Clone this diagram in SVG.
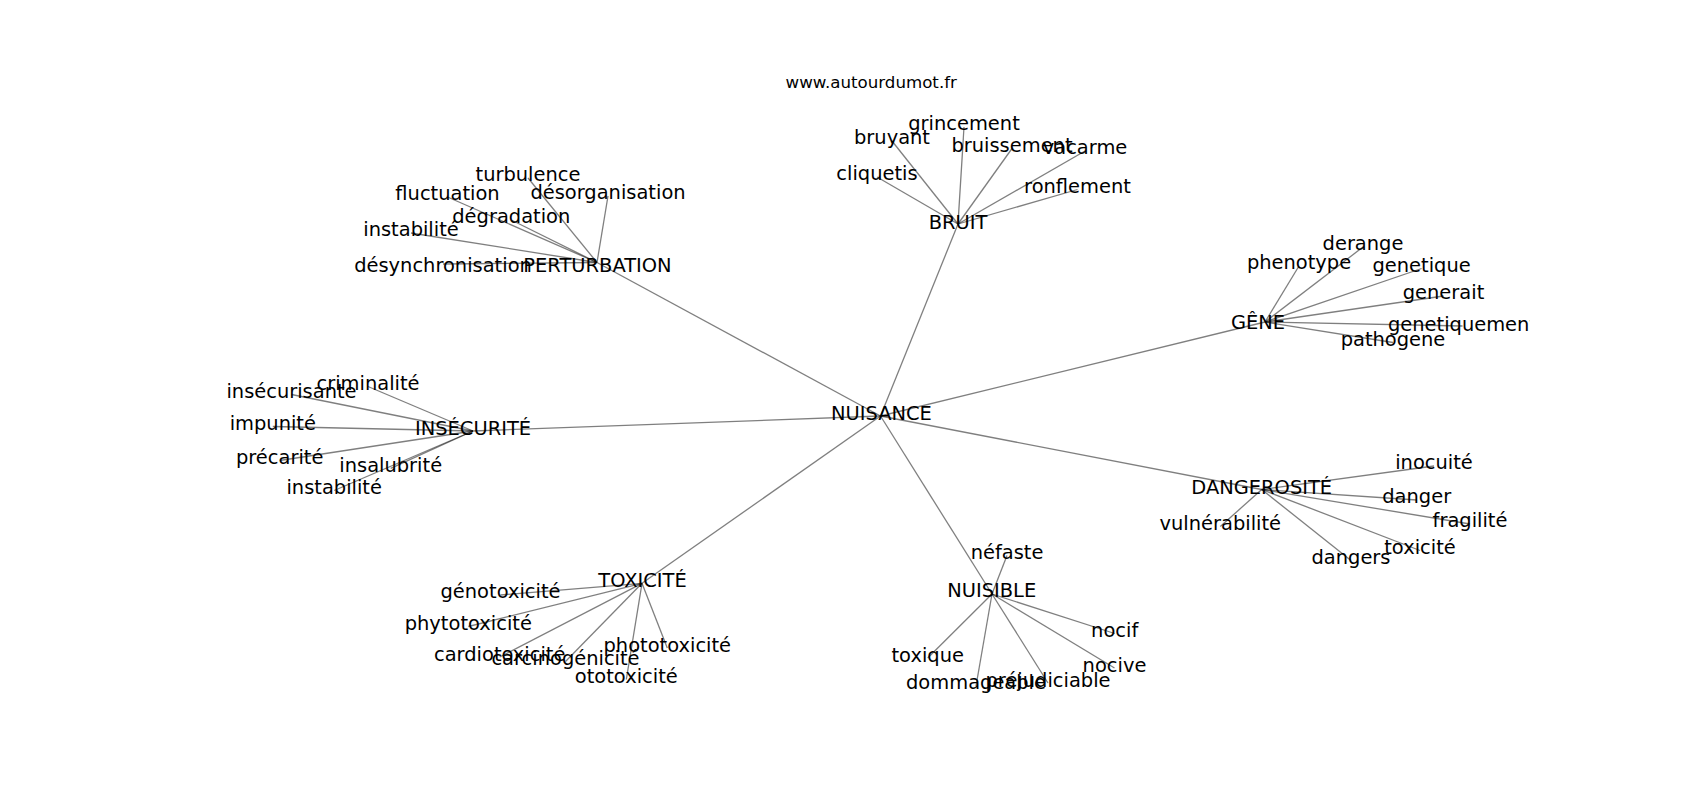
<svg xmlns="http://www.w3.org/2000/svg" width="1700" height="800" viewBox="0 0 1700 800">
<style>
text{font-family:"DejaVu Sans","Liberation Sans",sans-serif;fill:#000;text-anchor:middle}
.n text{font-size:19.44px}
.title{font-size:16.67px}
#edges line{stroke:#000;stroke-opacity:0.5;stroke-width:1.3}
</style>
<defs><clipPath id="ax"><rect x="212.5" y="96" width="1317.5" height="616"/></clipPath></defs>
<rect width="1700" height="800" fill="#fff"/>
<text class="title" x="871.25" y="87.7">www.autourdumot.fr</text>
<g id="edges">
<line x1="880.5" y1="416" x2="597" y2="262.5"/>
<line x1="880.5" y1="416" x2="958" y2="224"/>
<line x1="880.5" y1="416" x2="1265" y2="322"/>
<line x1="880.5" y1="416" x2="473" y2="431"/>
<line x1="880.5" y1="416" x2="1261.7" y2="489.5"/>
<line x1="880.5" y1="416" x2="642" y2="583.3"/>
<line x1="880.5" y1="416" x2="992" y2="594"/>
<line x1="597" y1="262.5" x2="528" y2="178"/>
<line x1="597" y1="262.5" x2="447.5" y2="197"/>
<line x1="597" y1="262.5" x2="608" y2="196"/>
<line x1="597" y1="262.5" x2="511.3" y2="220"/>
<line x1="597" y1="262.5" x2="411" y2="233"/>
<line x1="597" y1="262.5" x2="443" y2="264"/>
<line x1="958" y1="224" x2="964" y2="127"/>
<line x1="958" y1="224" x2="892" y2="141"/>
<line x1="958" y1="224" x2="1012" y2="148.5"/>
<line x1="958" y1="224" x2="877" y2="177"/>
<line x1="958" y1="224" x2="1085" y2="151"/>
<line x1="958" y1="224" x2="1077.5" y2="189.5"/>
<line x1="1265" y1="322" x2="1363" y2="247"/>
<line x1="1265" y1="322" x2="1299" y2="266"/>
<line x1="1265" y1="322" x2="1421.6" y2="268.5"/>
<line x1="1265" y1="322" x2="1443.5" y2="296"/>
<line x1="1265" y1="322" x2="1462.5" y2="326"/>
<line x1="1265" y1="322" x2="1393" y2="342.5"/>
<line x1="473" y1="431" x2="368" y2="386.5"/>
<line x1="473" y1="431" x2="291.5" y2="394.5"/>
<line x1="473" y1="431" x2="272.8" y2="426.5"/>
<line x1="473" y1="431" x2="279.7" y2="460.5"/>
<line x1="473" y1="431" x2="390.7" y2="468.3"/>
<line x1="473" y1="431" x2="334.2" y2="490.5"/>
<line x1="1261.7" y1="489.5" x2="1434" y2="466"/>
<line x1="1261.7" y1="489.5" x2="1416.7" y2="500"/>
<line x1="1261.7" y1="489.5" x2="1470" y2="524"/>
<line x1="1261.7" y1="489.5" x2="1420" y2="550.5"/>
<line x1="1261.7" y1="489.5" x2="1351" y2="560.5"/>
<line x1="1261.7" y1="489.5" x2="1220.3" y2="526.5"/>
<line x1="642" y1="583.3" x2="500.5" y2="595"/>
<line x1="642" y1="583.3" x2="468.3" y2="626.5"/>
<line x1="642" y1="583.3" x2="499.7" y2="657"/>
<line x1="642" y1="583.3" x2="565.5" y2="661.5"/>
<line x1="642" y1="583.3" x2="667.3" y2="648"/>
<line x1="642" y1="583.3" x2="626.3" y2="679.5"/>
<line x1="992" y1="594" x2="1007" y2="555.5"/>
<line x1="992" y1="594" x2="1114.7" y2="633.5"/>
<line x1="992" y1="594" x2="927.7" y2="658"/>
<line x1="992" y1="594" x2="1114.5" y2="668"/>
<line x1="992" y1="594" x2="976" y2="686"/>
<line x1="992" y1="594" x2="1048" y2="683"/>
</g>
<g class="n" clip-path="url(#ax)">
<g id="n-nuisance"><text x="881.4" y="420">NUISANCE</text></g>
<g id="n-perturbation"><text x="597.5" y="271.7">PERTURBATION</text></g>
<g id="n-turbulence"><text x="528" y="181">turbulence</text></g>
<g id="n-fluctuation"><text x="447.5" y="200">fluctuation</text></g>
<g id="n-desorganisation"><text x="608" y="199.3">désorganisation</text></g>
<g id="n-degradation"><text x="511.3" y="223.3">dégradation</text></g>
<g id="n-instabilite1"><text x="411" y="236">instabilité</text></g>
<g id="n-desynchronisation"><text x="443" y="271.5">désynchronisation</text></g>
<g id="n-bruit"><text x="958" y="228.5">BRUIT</text></g>
<g id="n-grincement"><text x="964" y="130">grincement</text></g>
<g id="n-bruyant"><text x="892" y="144.3">bruyant</text></g>
<g id="n-bruissement"><text x="1012" y="151.7">bruissement</text></g>
<g id="n-cliquetis"><text x="877" y="180">cliquetis</text></g>
<g id="n-vacarme"><text x="1085" y="154">vacarme</text></g>
<g id="n-ronflement"><text x="1077.5" y="192.5">ronflement</text></g>
<g id="n-gene"><text x="1258" y="329">GÊNE</text></g>
<g id="n-derange"><text x="1363" y="250.3">derange</text></g>
<g id="n-phenotype"><text x="1299" y="269.3">phenotype</text></g>
<g id="n-genetique"><text x="1421.6" y="271.7">genetique</text></g>
<g id="n-generait"><text x="1443.5" y="299.3">generait</text></g>
<g id="n-genetiquement"><text x="1462.5" y="330.7">genetiquement</text></g>
<g id="n-pathogene"><text x="1393" y="346">pathogene</text></g>
<g id="n-insecurite"><text x="473" y="434.5">INSÉCURITÉ</text></g>
<g id="n-criminalite"><text x="368" y="390">criminalité</text></g>
<g id="n-insecurisante"><text x="291.5" y="397.8">insécurisante</text></g>
<g id="n-impunite"><text x="272.8" y="430">impunité</text></g>
<g id="n-precarite"><text x="279.7" y="464">précarité</text></g>
<g id="n-insalubrite"><text x="390.7" y="471.7">insalubrité</text></g>
<g id="n-instabilite2"><text x="334.2" y="494">instabilité</text></g>
<g id="n-dangerosite"><text x="1261.7" y="493.5">DANGEROSITÉ</text></g>
<g id="n-inocuite"><text x="1434" y="469.4">inocuité</text></g>
<g id="n-danger"><text x="1416.7" y="503.3">danger</text></g>
<g id="n-fragilite"><text x="1470" y="527.3">fragilité</text></g>
<g id="n-toxicite2"><text x="1420" y="554">toxicité</text></g>
<g id="n-dangers"><text x="1351" y="564">dangers</text></g>
<g id="n-vulnerabilite"><text x="1220.3" y="530">vulnérabilité</text></g>
<g id="n-toxicite"><text x="642.5" y="586.8">TOXICITÉ</text></g>
<g id="n-genotoxicite"><text x="500.5" y="598.3">génotoxicité</text></g>
<g id="n-phytotoxicite"><text x="468.3" y="630">phytotoxicité</text></g>
<g id="n-cardiotoxicite"><text x="499.7" y="660.7">cardiotoxicité</text></g>
<g id="n-carcinogenicite"><text x="565.5" y="665">carcinogénicité</text></g>
<g id="n-phototoxicite"><text x="667.3" y="651.7">phototoxicité</text></g>
<g id="n-ototoxicite"><text x="626.3" y="683">ototoxicité</text></g>
<g id="n-nuisible"><text x="991.7" y="597.3">NUISIBLE</text></g>
<g id="n-nefaste"><text x="1007" y="559">néfaste</text></g>
<g id="n-nocif"><text x="1114.7" y="637">nocif</text></g>
<g id="n-toxique"><text x="927.7" y="661.7">toxique</text></g>
<g id="n-nocive"><text x="1114.5" y="671.7">nocive</text></g>
<g id="n-dommageable"><text x="976" y="689.3">dommageable</text></g>
<g id="n-prejudiciable"><text x="1048" y="686.5">préjudiciable</text></g>
</g>
</svg>
